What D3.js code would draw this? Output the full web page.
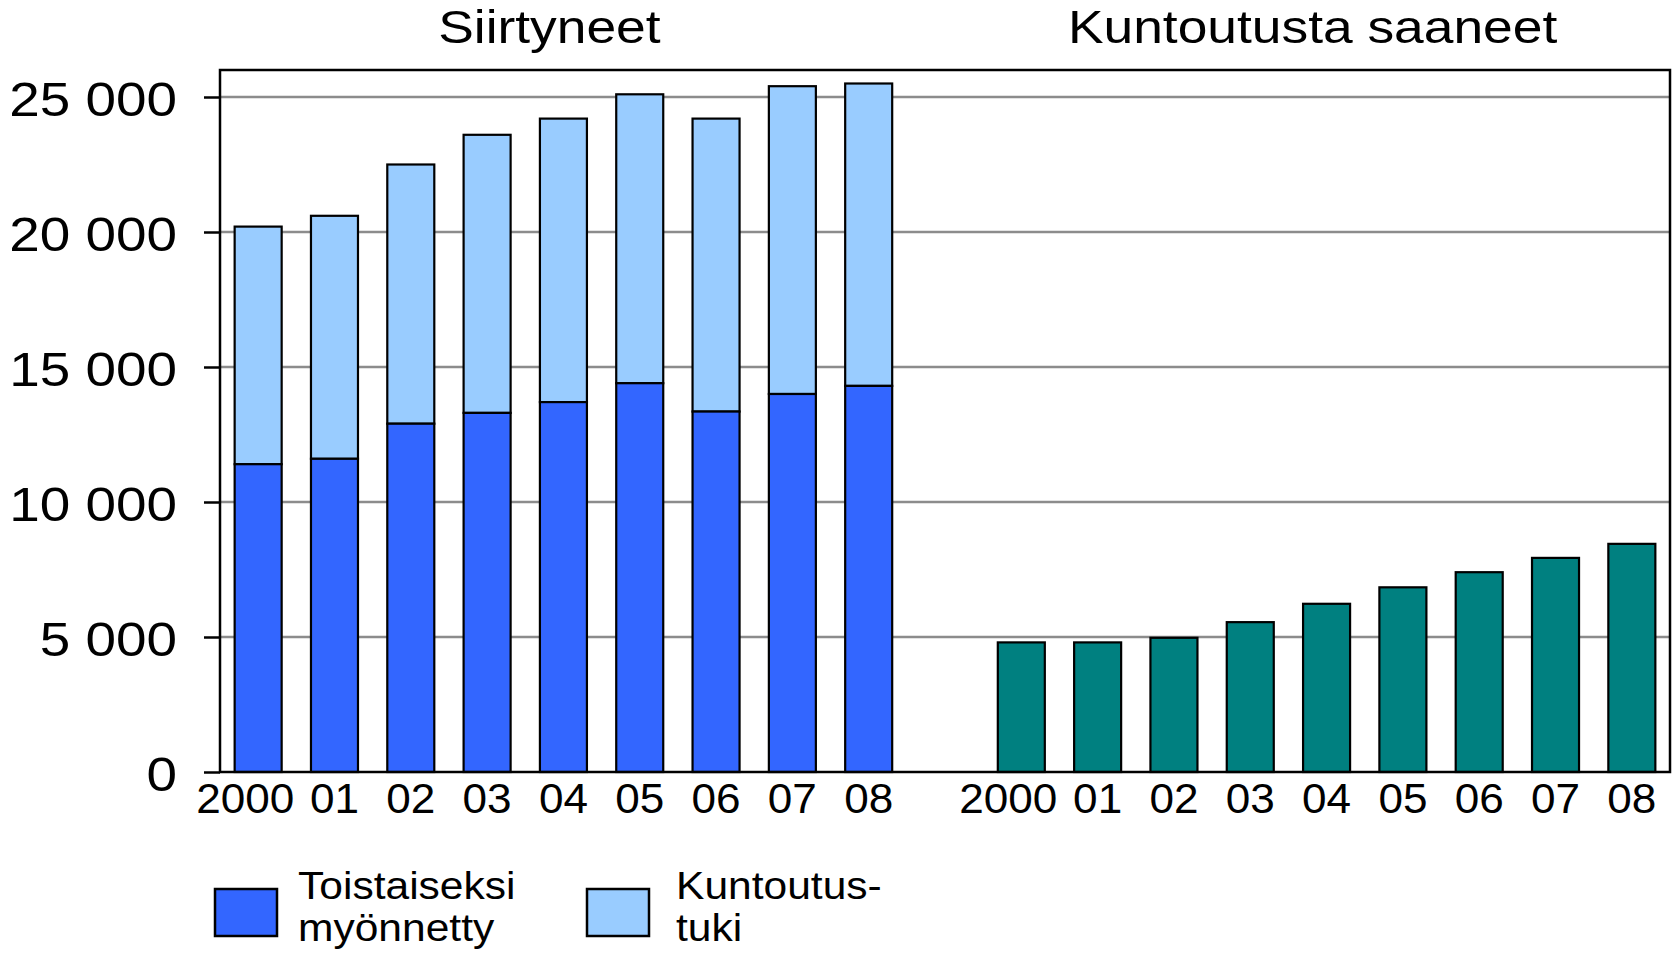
<!DOCTYPE html>
<html>
<head>
<meta charset="utf-8">
<script src="https://cdn.jsdelivr.net/npm/d3@7"></script>
<style>
  body { margin: 0; background: #fff; }
  text { font-family: Arial, "Liberation Sans", Helvetica, sans-serif; fill: #000; }
</style>
</head>
<body>
<div class="chart"></div>
<script>
var svgWidth = 1675;
var svgHeight = 953;

var margin = { top: 70, right: 5, bottom: 181, left: 220 };
var width = svgWidth - margin.left - margin.right;
var height = svgHeight - margin.top - margin.bottom;

// data
var years = ["2000", "01", "02", "03", "04", "05", "06", "07", "08"];
var toistaiseksi = [11400, 11600, 12900, 13300, 13700, 14400, 13350, 14000, 14300];
var kuntoutustuki = [8800, 9000, 9600, 10300, 10500, 10700, 10850, 11400, 11200];
var kuntoutusta = [4800, 4800, 4970, 5550, 6230, 6840, 7400, 7930, 8450];
var yTicks = [0, 5000, 10000, 15000, 20000, 25000];
var panelTitles = ["Siirtyneet", "Kuntoutusta saaneet"];
var legendLabels = [["Toistaiseksi", "myönnetty"], ["Kuntoutus-", "tuki"]];

var colDark = "#3366ff";
var colLight = "#99ccff";
var colTeal = "#008080";

// slots: 9 left years, one empty slot, 9 right years
var slots = years.map(d => "L" + d).concat(["gap"]).concat(years.map(d => "R" + d));

var svg = d3.select(".chart")
  .append("svg")
  .attr("width", svgWidth)
  .attr("height", svgHeight);

var chartGroup = svg.append("g")
  .attr("transform", `translate(${margin.left}, ${margin.top})`);

var xScale = d3.scaleBand()
  .domain(slots)
  .range([0, width])
  .paddingInner(0.384)
  .paddingOuter(0.192);

var yScale = d3.scaleLinear()
  .domain([0, 26000])
  .range([height, 0]);

var sx = 1.12; // the original type is a bit wider than Arial

// gridlines
chartGroup.append("g")
  .selectAll("line")
  .data(yTicks.filter(d => d > 0))
  .enter()
  .append("line")
  .attr("x1", 0)
  .attr("x2", width)
  .attr("y1", d => yScale(d))
  .attr("y2", d => yScale(d))
  .attr("stroke", "#8c8c8c")
  .attr("stroke-width", 2.5);

// left axis
var leftAxis = d3.axisLeft(yScale)
  .tickValues(yTicks)
  .tickSize(16)
  .tickSizeOuter(0)
  .tickPadding(27)
  .tickFormat(d => d3.format(",")(d).replace(/,/g, " "));

var yAxis = chartGroup.append("g").call(leftAxis);
yAxis.select(".domain").remove();
yAxis.selectAll("line").attr("stroke", "#000").attr("stroke-width", 2.5);
yAxis.selectAll("text")
  .attr("font-size", "49px")
  .attr("x", -43 / sx)
  .attr("dy", "0.38em")
  .attr("transform", `scale(${sx},1)`);

// stacked bars, left panel
var leftData = years.map((y, i) => ({ key: "L" + y, a: toistaiseksi[i], b: kuntoutustuki[i] }));

chartGroup.append("g").selectAll("rect")
  .data(leftData)
  .enter()
  .append("rect")
  .attr("x", d => xScale(d.key))
  .attr("width", xScale.bandwidth())
  .attr("y", d => yScale(d.a + d.b))
  .attr("height", d => yScale(d.a) - yScale(d.a + d.b))
  .attr("fill", colLight)
  .attr("stroke", "#000")
  .attr("stroke-width", 2.2);

chartGroup.append("g").selectAll("rect")
  .data(leftData)
  .enter()
  .append("rect")
  .attr("x", d => xScale(d.key))
  .attr("width", xScale.bandwidth())
  .attr("y", d => yScale(d.a))
  .attr("height", d => yScale(0) - yScale(d.a))
  .attr("fill", colDark)
  .attr("stroke", "#000")
  .attr("stroke-width", 2.2);

// right panel
var rightData = years.map((y, i) => ({ key: "R" + y, v: kuntoutusta[i] }));

chartGroup.append("g").selectAll("rect")
  .data(rightData)
  .enter()
  .append("rect")
  .attr("x", d => xScale(d.key))
  .attr("width", xScale.bandwidth())
  .attr("y", d => yScale(d.v))
  .attr("height", d => yScale(0) - yScale(d.v))
  .attr("fill", colTeal)
  .attr("stroke", "#000")
  .attr("stroke-width", 2.2);

// frame
chartGroup.append("rect")
  .attr("x", 0)
  .attr("y", 0)
  .attr("width", width)
  .attr("height", height)
  .attr("fill", "none")
  .attr("stroke", "#000")
  .attr("stroke-width", 2.5);

// x labels
var bottomAxis = d3.axisBottom(xScale)
  .tickValues(slots.filter(d => d !== "gap"))
  .tickSize(0)
  .tickPadding(0)
  .tickFormat(d => d.slice(1));

var xAxis = chartGroup.append("g")
  .attr("transform", `translate(0, ${height})`)
  .call(bottomAxis);
xAxis.select(".domain").remove();
xAxis.selectAll("text")
  .attr("font-size", "42px")
  .attr("y", 41)
  .attr("dy", 0)
  // the four-digit year sits a little left of its bar
  .attr("x", d => d.length > 3 ? -13 / 1.05 : 0)
  .attr("transform", "scale(1.05,1)");

// panel titles
var groups = [years.map(d => "L" + d), years.map(d => "R" + d)];
svg.append("g").selectAll("text")
  .data(panelTitles)
  .enter()
  .append("text")
  .attr("text-anchor", "middle")
  .attr("font-size", "46px")
  .attr("transform", (d, i) => {
    var g = groups[i];
    var cx = margin.left + (xScale(g[0]) + xScale(g[g.length - 1]) + xScale.bandwidth()) / 2 - 14;
    return `translate(${cx}, 43) scale(1.16,1)`;
  })
  .text(d => d);

// legend
var legendColors = [colDark, colLight];
var legendX = [215, 587];
var legend = svg.append("g").selectAll("g")
  .data(legendLabels)
  .enter()
  .append("g")
  .attr("transform", (d, i) => `translate(${legendX[i]}, 889)`);

legend.append("rect")
  .attr("width", 62)
  .attr("height", 47)
  .attr("fill", (d, i) => legendColors[i])
  .attr("stroke", "#000")
  .attr("stroke-width", 2.5);

legend.each(function(d, i) {
  var t = d3.select(this).append("text")
    .attr("font-size", "38px")
    .attr("transform", `translate(${i === 0 ? 83 : 89}, 10) scale(1.12,1)`);
  t.selectAll("tspan")
    .data(d)
    .enter()
    .append("tspan")
    .attr("x", 0)
    .attr("y", (l, j) => j * 42)
    .text(l => l);
});
</script>
</body>
</html>
